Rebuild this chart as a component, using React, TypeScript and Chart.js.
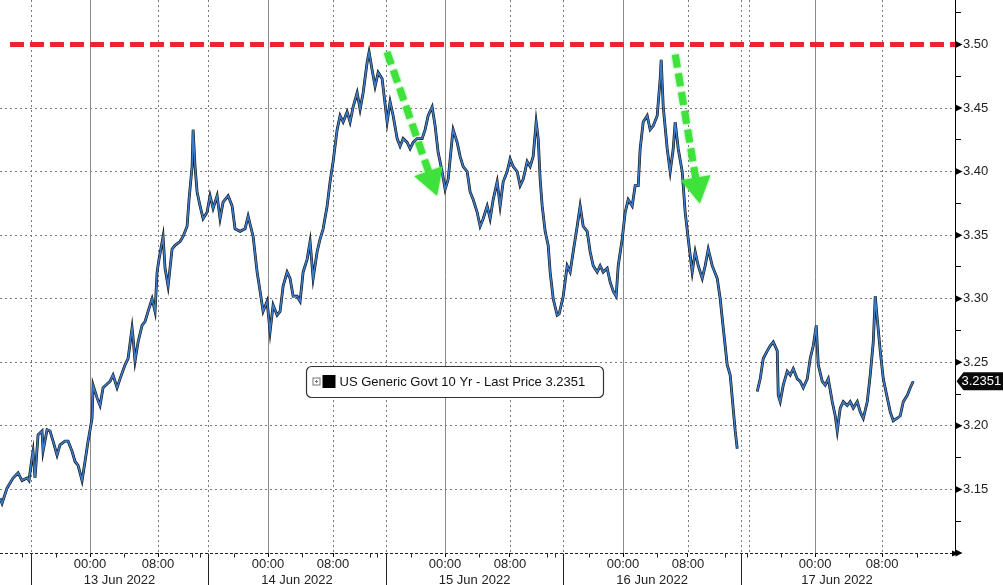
import React, { useEffect, useRef } from "react";
import { Chart, registerables } from "chart.js";

Chart.register(...registerables);

const FONT = "'Liberation Sans', Arial, sans-serif";

// Session hours (0 = start of the 13 Jun session) and yield values
const hours = [
  -3.66, -3.42, -2.83, -2.12, -1.53, -1.06, -0.47, -0.24, 0.12, 0.24, 0.47, 0.83, 1.3, 1.42, 1.89, 2.24, 2.6, 3.07, 3.42,
  4.01, 4.37, 4.84, 5.19, 5.55, 6.02, 6.37, 6.73, 7.2, 7.32, 7.79, 8.14, 8.5, 8.97, 9.32, 9.68, 10.15, 10.5, 11.09, 11.45,
  11.92, 12.04, 12.27, 12.63, 13.1, 13.45, 13.81, 14.28, 14.63, 14.87, 15.1, 15.58, 15.81, 16.17, 16.64, 16.99, 17.58,
  17.94, 18.41, 18.64, 19.0, 19.12, 19.35, 19.59, 19.94, 20.3, 20.77, 21.12, 21.48, 21.95, 22.3, 22.66, 23.25, 23.72,
  24.07, 24.66, 25.25, 25.61, 26.2, 26.67, 27.02, 27.38, 27.85, 28.2, 28.56, 29.03, 29.38, 29.74, 30.21, 30.56, 30.92,
  31.39, 31.74, 32.1, 32.57, 32.92, 33.28, 33.75, 34.1, 34.46, 34.93, 35.28, 35.64, 36.11, 36.46, 36.82, 37.29, 37.64,
  38.0, 38.47, 38.82, 39.18, 39.65, 39.88, 40.24, 40.59, 40.95, 41.42, 42.01, 42.36, 42.72, 43.19, 43.54, 43.9, 44.37,
  44.72, 45.08, 45.55, 46.14, 46.49, 46.85, 47.32, 47.67, 48.03, 48.5, 48.85, 49.21, 49.68, 49.8, 50.27, 50.62, 50.98,
  51.45, 51.8, 52.16, 52.63, 52.98, 53.34, 53.81, 54.16, 54.52, 54.99, 55.34, 55.7, 56.17, 56.52, 56.88, 57.35, 57.7,
  58.06, 58.53, 58.88, 59.24, 59.59, 59.83, 60.06, 60.3, 60.65, 61.01, 61.24, 61.6, 62.07, 62.3, 62.78, 63.25, 63.6,
  63.96, 64.43, 64.78, 65.14, 65.61, 65.96, 66.32, 66.79, 67.14, 67.5, 67.97, 68.32, 68.68, 69.03, 69.27, 69.74, 70.09,
  70.45, 70.92, 71.27, 71.63, 71.86, 72.22, 72.69, 73.04, 73.4, 73.87, 74.22, 74.34, 74.58, 75.05, 75.4, 75.76, 75.99,
  76.35, 76.82, 77.17, 77.53, 78.0, 78.35, 78.71, 79.18, 79.53, 79.89, 80.36, 80.95, 81.3, 81.66, 82.13, 82.48, 82.72,
  83.07, 83.31, 84.5, 85.67, 86.02, 86.38, 86.85, 87.2, 87.56, 88.03, 88.15, 88.38, 88.74, 89.21, 89.56, 89.92, 90.39,
  90.74, 91.1, 91.57, 91.92, 92.28, 92.63, 92.87, 93.34, 93.69, 94.05, 94.52, 94.87, 95.11, 95.46, 95.82, 96.29, 96.64,
  97.0, 97.47, 97.82, 98.18, 98.65, 99.0, 99.36, 99.59, 99.83, 100.18, 100.54, 101.01, 101.36, 101.72, 102.19, 102.54,
  102.9, 103.37, 103.72, 104.08,
];

const prices = [
  3.143, 3.139, 3.151, 3.159, 3.163, 3.157, 3.159, 3.157, 3.175, 3.18, 3.159, 3.193, 3.196, 3.18, 3.197, 3.196, 3.188,
  3.177, 3.185, 3.188, 3.188, 3.18, 3.172, 3.169, 3.157, 3.172, 3.188, 3.206, 3.232, 3.222, 3.216, 3.23, 3.233, 3.235,
  3.24, 3.23, 3.237, 3.248, 3.253, 3.277, 3.269, 3.251, 3.266, 3.279, 3.282, 3.29, 3.3, 3.29, 3.321, 3.331, 3.349, 3.324,
  3.31, 3.339, 3.342, 3.345, 3.349, 3.357, 3.378, 3.404, 3.433, 3.404, 3.384, 3.373, 3.363, 3.368, 3.381, 3.371, 3.381,
  3.363, 3.376, 3.381, 3.373, 3.355, 3.353, 3.355, 3.365, 3.349, 3.321, 3.306, 3.29, 3.298, 3.274, 3.295, 3.287, 3.29,
  3.31, 3.321, 3.316, 3.302, 3.302, 3.298, 3.321, 3.331, 3.345, 3.316, 3.337, 3.347, 3.355, 3.373, 3.392, 3.408, 3.433,
  3.444, 3.439, 3.447, 3.439, 3.451, 3.462, 3.449, 3.462, 3.486, 3.494, 3.48, 3.467, 3.478, 3.473, 3.439, 3.455, 3.444,
  3.426, 3.42, 3.426, 3.423, 3.418, 3.423, 3.426, 3.426, 3.433, 3.444, 3.451, 3.436, 3.415, 3.4, 3.386, 3.394, 3.426,
  3.433, 3.423, 3.412, 3.404, 3.4, 3.384, 3.378, 3.368, 3.357, 3.363, 3.373, 3.363, 3.378, 3.392, 3.373, 3.392, 3.4,
  3.41, 3.404, 3.4, 3.389, 3.394, 3.408, 3.404, 3.412, 3.439, 3.426, 3.394, 3.373, 3.353, 3.342, 3.321, 3.3, 3.287,
  3.288, 3.302, 3.326, 3.321, 3.337, 3.357, 3.373, 3.357, 3.353, 3.337, 3.326, 3.321, 3.326, 3.321, 3.324, 3.313, 3.306,
  3.302, 3.326, 3.347, 3.368, 3.378, 3.373, 3.389, 3.389, 3.418, 3.439, 3.444, 3.433, 3.436, 3.444, 3.473, 3.488, 3.451,
  3.418, 3.4, 3.418, 3.439, 3.418, 3.4, 3.368, 3.347, 3.321, 3.337, 3.326, 3.316, 3.326, 3.339, 3.326, 3.316, 3.3, 3.277,
  3.248, 3.24, 3.222, 3.196, 3.182, null, 3.227, 3.237, 3.253, 3.259, 3.263, 3.266, 3.259, 3.224, 3.219, 3.232, 3.243,
  3.24, 3.245, 3.237, 3.235, 3.23, 3.237, 3.253, 3.263, 3.279, 3.248, 3.235, 3.232, 3.237, 3.219, 3.208, 3.196, 3.214,
  3.219, 3.216, 3.219, 3.214, 3.219, 3.211, 3.206, 3.219, 3.24, 3.266, 3.302, 3.284, 3.259, 3.237, 3.222, 3.211, 3.204,
  3.206, 3.208, 3.219, 3.224, 3.23, 3.2351,
];

const SERIES_NAME = "US Generic Govt 10 Yr - Last Price";
const LAST_PRICE = 3.2351;
const RESISTANCE = 3.5;
const resistanceSpan = [-2.48, 109];

const X_MIN = -3.66;
const X_MAX = 109;
const Y_MIN = 3.1;
const Y_MAX = 3.535;

const dayStarts = [0, 20.88, 41.88, 62.77, 83.77];
const dayEnd = 106.4;
const dayLabels = ["13 Jun 2022", "14 Jun 2022", "15 Jun 2022", "16 Jun 2022", "17 Jun 2022"];
const midnightTicks = [6.96, 27.96, 48.84, 69.84, 92.5];
const eightTicks = [14.98, 35.63, 56.5, 77.5, 100.4];
const extraDotted = [84.7];
const minorOffsets = [-8, -4, 4, 12];
const yTicks = [3.1, 3.125, 3.15, 3.175, 3.2, 3.225, 3.25, 3.275, 3.3, 3.325, 3.35, 3.375, 3.4, 3.425, 3.45, 3.475, 3.5, 3.525];

// arrows: [fromHour, fromPrice, toHour, toPrice]
const arrows = [
  [42.0, 3.494, 47.9, 3.381],
  [76.0, 3.492, 78.9, 3.375],
];

const isMajor = (v: number) => Math.abs(v * 20 - Math.round(v * 20)) < 1e-6;

const overlayPlugin = {
  id: "overlay",
  beforeDatasetsDraw(chart: any) {
    const { ctx, chartArea, scales } = chart;
    const xs = scales.x;
    ctx.save();
    ctx.lineWidth = 1;
    ctx.strokeStyle = "#8a8a8a";
    ctx.setLineDash([]);
    midnightTicks.forEach((v) => {
      const px = Math.round(xs.getPixelForValue(v)) + 0.5;
      ctx.beginPath();
      ctx.moveTo(px, chartArea.top);
      ctx.lineTo(px, chartArea.bottom);
      ctx.stroke();
    });
    ctx.setLineDash([2, 3]);
    ctx.strokeStyle = "#7a7a7a";
    [...eightTicks, ...dayStarts, ...extraDotted].forEach((v) => {
      const px = Math.round(xs.getPixelForValue(v)) + 0.5;
      ctx.beginPath();
      ctx.moveTo(px, chartArea.top);
      ctx.lineTo(px, chartArea.bottom);
      ctx.stroke();
    });
    ctx.restore();
  },
  afterDatasetsDraw(chart: any) {
    const { ctx, scales } = chart;
    const xs = scales.x;
    const ys = scales.y;
    ctx.save();
    arrows.forEach(([h1, p1, h2, p2]) => {
      const x1 = xs.getPixelForValue(h1);
      const y1 = ys.getPixelForValue(p1);
      const x2 = xs.getPixelForValue(h2);
      const y2 = ys.getPixelForValue(p2);
      const ang = Math.atan2(y2 - y1, x2 - x1);
      const headLen = 26;
      const headW = 15;
      const bx = x2 - headLen * Math.cos(ang);
      const by = y2 - headLen * Math.sin(ang);
      ctx.shadowColor = "rgba(40,200,40,0.6)";
      ctx.shadowBlur = 3;
      ctx.strokeStyle = "#3fe23a";
      ctx.fillStyle = "#3fe23a";
      ctx.lineWidth = 7;
      ctx.lineCap = "butt";
      ctx.setLineDash([13, 6]);
      ctx.beginPath();
      ctx.moveTo(x1, y1);
      ctx.lineTo(bx, by);
      ctx.stroke();
      ctx.setLineDash([]);
      ctx.beginPath();
      ctx.moveTo(x2, y2);
      ctx.lineTo(bx + headW * Math.sin(ang), by - headW * Math.cos(ang));
      ctx.lineTo(bx - headW * Math.sin(ang), by + headW * Math.cos(ang));
      ctx.closePath();
      ctx.fill();
    });
    ctx.restore();
  },
  afterDraw(chart: any) {
    const { ctx, chartArea, scales, width, height } = chart;
    const xs = scales.x;
    const ys = scales.y;
    ctx.save();
    // bottom axis line
    const axY = Math.round(chartArea.bottom) + 0.5;
    ctx.strokeStyle = "#222";
    ctx.lineWidth = 1;
    ctx.setLineDash([3, 2]);
    ctx.beginPath();
    ctx.moveTo(chartArea.left, axY);
    ctx.lineTo(chartArea.right, axY);
    ctx.stroke();
    ctx.setLineDash([]);
    ctx.fillStyle = "#000";
    ctx.beginPath();
    ctx.moveTo(chartArea.right + 4, axY);
    ctx.lineTo(chartArea.right - 3, axY - 3);
    ctx.lineTo(chartArea.right - 3, axY + 3);
    ctx.closePath();
    ctx.fill();
    // minor x ticks
    midnightTicks.forEach((m) => {
      minorOffsets.forEach((o) => {
        const v = m + o;
        if (v < X_MIN || v > X_MAX) return;
        const px = Math.round(xs.getPixelForValue(v)) + 0.5;
        ctx.beginPath();
        ctx.moveTo(px, axY);
        ctx.lineTo(px, axY + 4);
        ctx.stroke();
      });
    });
    // day separators below the axis
    dayStarts.forEach((v) => {
      const px = Math.round(xs.getPixelForValue(v)) + 0.5;
      ctx.beginPath();
      ctx.moveTo(px, axY);
      ctx.lineTo(px, height);
      ctx.stroke();
    });
    // date labels
    ctx.fillStyle = "#222";
    ctx.font = `13px ${FONT}`;
    ctx.textAlign = "center";
    ctx.textBaseline = "middle";
    dayLabels.forEach((lbl, i) => {
      const a = dayStarts[i];
      const b = i + 1 < dayStarts.length ? dayStarts[i + 1] : dayEnd;
      const px = xs.getPixelForValue((a + b) / 2);
      ctx.fillText(lbl, px, chartArea.bottom + 27);
    });
    // y axis major tick triangles
    const axX = Math.round(chartArea.right) + 0.5;
    ctx.fillStyle = "#000";
    yTicks.forEach((v) => {
      if (!isMajor(v)) return;
      const py = ys.getPixelForValue(v);
      ctx.beginPath();
      ctx.moveTo(axX, py - 3.5);
      ctx.lineTo(axX + 7, py);
      ctx.lineTo(axX, py + 3.5);
      ctx.closePath();
      ctx.fill();
    });
    // last price tag
    const ty = ys.getPixelForValue(LAST_PRICE);
    ctx.fillStyle = "#0a0a0a";
    ctx.beginPath();
    ctx.moveTo(axX + 1, ty);
    ctx.lineTo(axX + 8, ty - 9);
    ctx.lineTo(width, ty - 9);
    ctx.lineTo(width, ty + 9);
    ctx.lineTo(axX + 8, ty + 9);
    ctx.closePath();
    ctx.fill();
    ctx.fillStyle = "#fff";
    ctx.textAlign = "left";
    ctx.font = `13px ${FONT}`;
    ctx.fillText(LAST_PRICE.toFixed(4), axX + 6, ty + 0.5);
    // legend box
    const lx = chartArea.left + 306.5;
    const ly = chartArea.top + 366.5;
    const lw = 297;
    const lh = 31;
    ctx.fillStyle = "#fff";
    ctx.strokeStyle = "#333";
    ctx.lineWidth = 1.2;
    ctx.beginPath();
    (ctx as any).roundRect(lx, ly, lw, lh, 5);
    ctx.fill();
    ctx.stroke();
    const cy = ly + lh / 2;
    ctx.lineWidth = 1;
    ctx.strokeStyle = "#777";
    ctx.strokeRect(lx + 6.5, cy - 4, 7, 7);
    ctx.beginPath();
    ctx.moveTo(lx + 8.5, cy - 0.5);
    ctx.lineTo(lx + 11.5, cy - 0.5);
    ctx.moveTo(lx + 10, cy - 2);
    ctx.lineTo(lx + 10, cy + 1);
    ctx.stroke();
    ctx.fillStyle = "#000";
    ctx.fillRect(lx + 16, cy - 7, 13, 13);
    ctx.fillStyle = "#111";
    ctx.font = `13px ${FONT}`;
    ctx.textAlign = "left";
    ctx.textBaseline = "middle";
    ctx.fillText(`${SERIES_NAME} ${LAST_PRICE.toFixed(4)}`, lx + 33, cy);
    ctx.restore();
  },
};

export default function App() {
  const ref = useRef<HTMLCanvasElement | null>(null);

  useEffect(() => {
    document.body.style.margin = "0";
    const canvas = ref.current;
    if (!canvas) return;
    const points = hours.map((h, i) => ({ x: h, y: prices[i] }));
    const chart = new Chart(canvas, {
      type: "line",
      data: {
        datasets: [
          {
            label: SERIES_NAME,
            data: points as any,
            borderColor: "#3d7cc9",
            borderWidth: 1.6,
            pointRadius: 0,
            tension: 0,
            spanGaps: false,
            order: 0,
          },
          {
            label: "outline",
            data: points as any,
            borderColor: "#111",
            borderWidth: 2.8,
            pointRadius: 0,
            tension: 0,
            spanGaps: false,
            order: 1,
          },
          {
            label: "3.50",
            data: resistanceSpan.map((h) => ({ x: h, y: RESISTANCE })) as any,
            borderColor: "#e8262b",
            borderWidth: 5,
            borderDash: [14, 6],
            pointRadius: 0,
            order: 2,
          },
        ],
      },
      options: {
        responsive: false,
        maintainAspectRatio: false,
        animation: false,
        devicePixelRatio: 1,
        layout: { padding: 0 },
        plugins: { legend: { display: false }, tooltip: { enabled: false } },
        scales: {
          x: {
            type: "linear",
            min: X_MIN,
            max: X_MAX,
            afterBuildTicks: (s: any) => {
              s.ticks = [...midnightTicks, ...eightTicks].sort((a, b) => a - b).map((v) => ({ value: v }));
            },
            afterFit: (s: any) => {
              s.height = 32;
              s.paddingLeft = 0;
              s.paddingRight = 0;
            },
            ticks: {
              autoSkip: false,
              maxRotation: 0,
              minRotation: 0,
              padding: 0,
              color: "#222",
              font: { family: FONT, size: 13 },
              callback: (v: any) => (midnightTicks.includes(v) ? "00:00" : "08:00"),
            },
            grid: { drawOnChartArea: false, tickLength: 4, tickColor: "#000", color: "#000" },
            border: { display: false },
          },
          y: {
            type: "linear",
            position: "right",
            min: Y_MIN,
            max: Y_MAX,
            afterBuildTicks: (s: any) => {
              s.ticks = yTicks.map((v) => ({ value: v }));
            },
            afterFit: (s: any) => {
              s.width = 48;
              s.paddingTop = 0;
              s.paddingBottom = 0;
            },
            ticks: {
              autoSkip: false,
              padding: 2,
              color: "#222",
              font: { family: FONT, size: 13 },
              callback: (v: any) => (isMajor(v) && v > 3.11 && v < 3.51 ? Number(v).toFixed(2) : ""),
            },
            grid: {
              color: (c: any) => {
                const v = c.tick ? c.tick.value : 0;
                return isMajor(v) && v > 3.11 && v < 3.49 ? "#7a7a7a" : "rgba(0,0,0,0)";
              },
              tickColor: "#000",
              tickLength: 6,
              lineWidth: 1,
            },
            border: { display: true, color: "#000", width: 1, dash: [2, 3] },
          },
        },
      },
      plugins: [overlayPlugin],
    });
    return () => chart.destroy();
  }, []);

  return (
    <div style={{ width: 1003, height: 585 }}>
      <canvas ref={ref} width={1003} height={585} style={{ display: "block" }} />
    </div>
  );
}
